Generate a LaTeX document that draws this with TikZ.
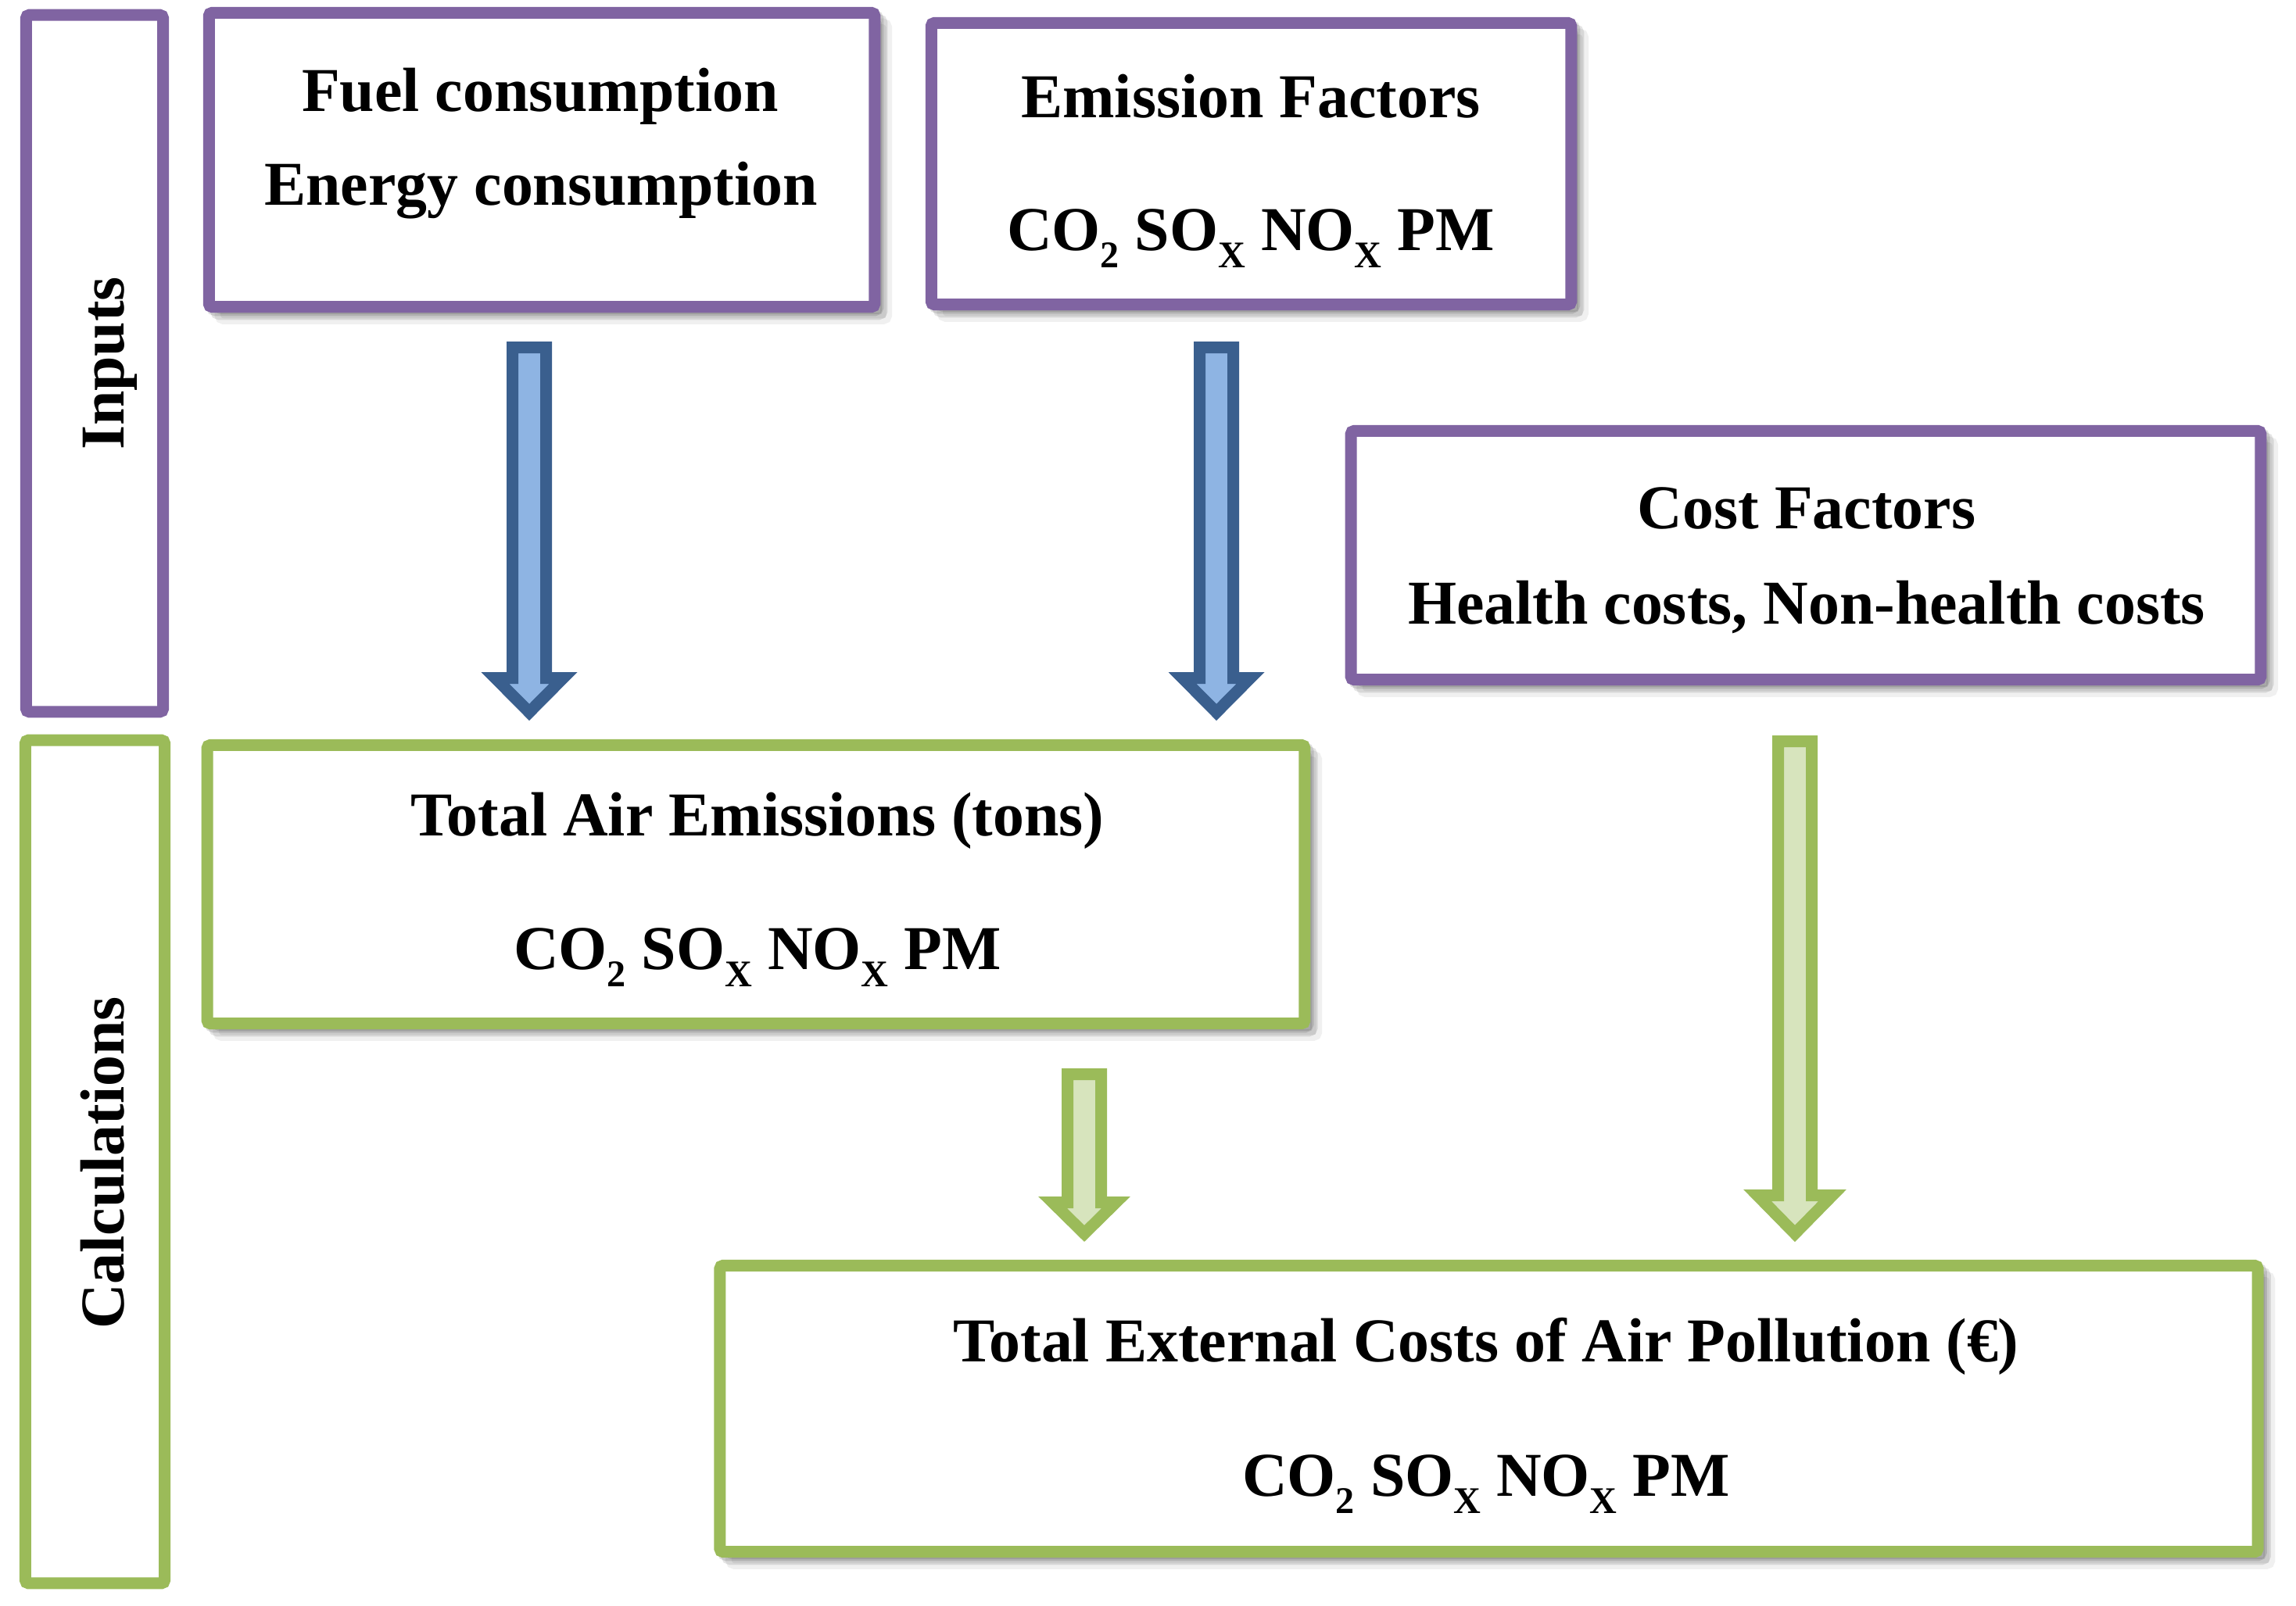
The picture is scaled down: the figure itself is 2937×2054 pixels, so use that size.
\documentclass[tikz,border=0pt]{standalone}
\usepackage{fontspec}
\setmainfont{Liberation Serif}
\usetikzlibrary{calc}
\definecolor{purp}{HTML}{8064A2}
\definecolor{grn}{HTML}{9BBB59}
\definecolor{grnfill}{HTML}{D7E4BD}
\definecolor{blu}{HTML}{3A5F8E}
\definecolor{blufill}{HTML}{8EB4E3}
\newcommand\subx[1]{\raisebox{-6.3pt}{\fontsize{13.7}{14}\selectfont #1}}
% #1 style, #2 name, #3 centre x, #4 top y, #5 head base y, #6 tip y, #7 head half width
\newcommand\BArrow[7]{%
  \coordinate (#2s) at (#3,#4);
  \coordinate (#2e) at (#3,#6);
  \draw[#1] ($(#2s)+(-21.5,7.5)$) -- ($(#2s)+(21.5,7.5)$) -- (#3+21.5,#5+7.5)
    -- (#3+#7-18,#5+7.5) -- ($(#2e)+(0,-10.6)$) -- (#3-#7+18,#5+7.5)
    -- (#3-21.5,#5+7.5) -- cycle;}
\begin{document}
\begin{tikzpicture}[x=0.01cm,y=-0.01cm,
  box/.style={draw, line width=0.15cm, fill=white, rounded corners=0.04cm,
    inner sep=0pt, outer sep=0pt},
  pbox/.style={box, draw=purp},
  gbox/.style={box, draw=grn},
  shad/.style={
    preaction={draw=black, fill=black, opacity=.06, line width=0.15cm,
      transform canvas={xshift=4.2pt, yshift=-4.2pt}},
    preaction={draw=black, fill=black, opacity=.10, line width=0.15cm,
      transform canvas={xshift=2.6pt, yshift=-2.6pt}},
    preaction={draw=black, fill=black, opacity=.12, line width=0.15cm,
      transform canvas={xshift=1.2pt, yshift=-1.2pt}}},
  txt/.style={font=\fontsize{22.7}{27}\selectfont\bfseries, anchor=base,
    inner sep=0pt},
  bluearr/.style={draw=blu, fill=blufill, line width=0.15cm, line join=miter},
  grnarr/.style={draw=grn, fill=grnfill, line width=0.15cm, line join=miter}]
\useasboundingbox (0,0) rectangle (2937,2054);
\fill[white] (0,0) rectangle (2937,2054);

% side boxes
\node[pbox, minimum width=1.75cm, minimum height=8.91cm] (inputs) at (121,465) {};
\node[gbox, minimum width=1.78cm, minimum height=10.78cm] (calc) at (121.5,1486.5) {};
\node[txt, rotate=90] (inputsL) at (158,465) {Inputs};
\node[txt, rotate=90] (calcL) at (158,1488) {Calculations};

% input boxes
\node[pbox, shad, minimum width=8.51cm, minimum height=3.76cm] (fuel) at (693,204.5) {};
\node[pbox, shad, minimum width=8.18cm, minimum height=3.60cm] (emis) at (1600.5,209.5) {};
\node[pbox, shad, minimum width=11.63cm, minimum height=3.18cm] (cost) at (2310,710.5) {};

% calculation boxes
\node[gbox, shad, minimum width=14.03cm, minimum height=3.56cm] (tae) at (967,1131.5) {};
\node[gbox, shad, minimum width=19.66cm, minimum height=3.66cm] (tec) at (1904.5,1802.5) {};

% texts
\node[txt] (fuel1) at (691,142) {Fuel consumption};
\node[txt] (fuel2) at (692,262) {Energy consumption};
\node[txt] (emis1) at (1600,150) {Emission Factors};
\node[txt] (emis2) at (1600,320) {CO\subx{2} SO\subx{X} NO\subx{X} PM};
\node[txt] (cost1) at (2311,676) {Cost Factors};
\node[txt] (cost2) at (2311,798) {Health costs, Non-health costs};
\node[txt] (tae1) at (969,1069) {Total Air Emissions (tons)};
\node[txt] (tae2) at (969,1240) {CO\subx{2} SO\subx{X} NO\subx{X} PM};
\node[txt] (tec1) at (1901,1742) {Total External Costs of Air Pollution (€)};
\node[txt] (tec2) at (1901,1914) {CO\subx{2} SO\subx{X} NO\subx{X} PM};

% block arrows
\BArrow{bluearr}{a1}{677}{437}{860}{922}{61.5}
\BArrow{bluearr}{a2}{1556}{437}{860}{922}{61.5}
\BArrow{grnarr}{a3}{1387}{1367}{1531}{1589}{58.5}
\BArrow{grnarr}{a4}{2296}{941}{1522}{1589}{66}
\end{tikzpicture}
\end{document}
